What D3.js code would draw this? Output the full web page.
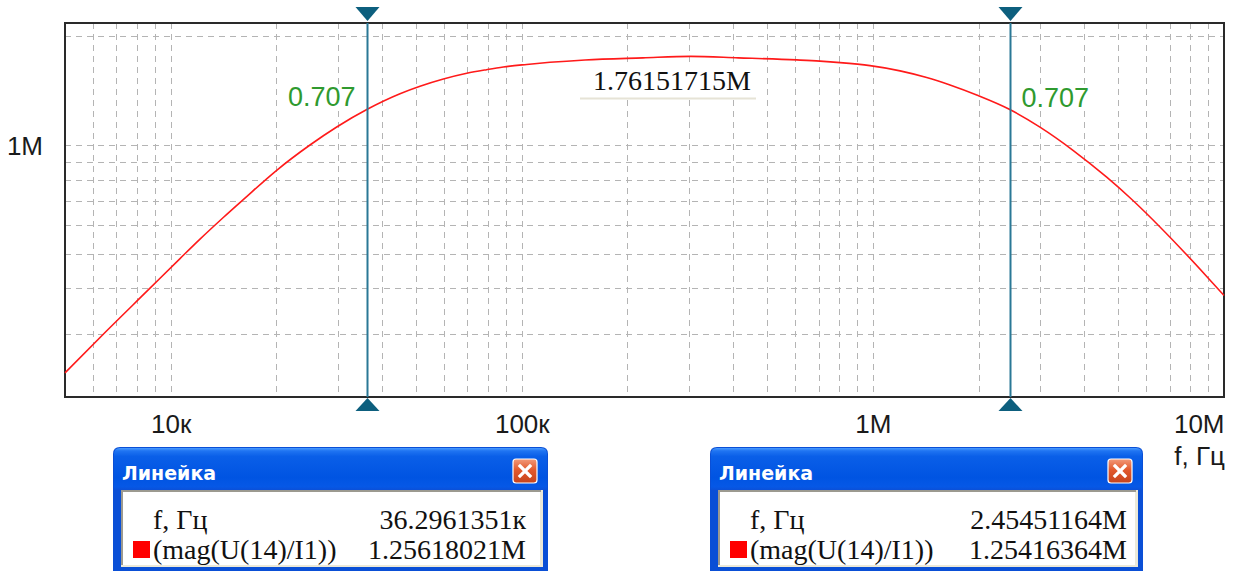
<!DOCTYPE html>
<html>
<head>
<meta charset="utf-8">
<script src="https://cdn.jsdelivr.net/npm/d3@7"></script>
<style>
  html, body { margin: 0; padding: 0; background: #fff; }
  svg { display: block; }
</style>
</head>
<body>
<svg id="chart" width="1235" height="571"></svg>
<script>
// Magnitude response |U(14)/I1| versus frequency (sampled along the trace)
const freqHz = [5000, 6500, 8630, 10630, 12120, 14120, 16070, 20040, 24930, 29710,
  36296.1351, 44990, 51300, 59800, 69700, 79400, 88600, 103300, 120300, 151400,
  221400, 302700, 413600, 606700, 707000, 806000, 981000, 1195000, 1423000, 1658000,
  1975000, 2454511.64, 2991000, 3723000, 4634000, 5398000, 7576000, 8928000, 10000000];
const magnitude = [233300, 302000, 396300, 484200, 548300, 629500, 704700, 851100, 1000000, 1122000,
  1256180.21, 1387000, 1455000, 1524000, 1581000, 1618000, 1646000, 1673000, 1696000, 1722000,
  1745000, 1761517.15, 1745000, 1722000, 1709000, 1693000, 1660000, 1606000, 1539000, 1467000,
  1376000, 1254163.64, 1121000, 965400, 814100, 714100, 513300, 432000, 382400];

const xTickValues = [1e4, 1e5, 1e6, 1e7];
const xTickLabels = ["10к", "100к", "1M", "10M"];
const yTickValues = [1e6];
const yTickLabels = ["1M"];
const yGridValues = [3e5, 4e5, 5e5, 6e5, 7e5, 8e5, 9e5, 1e6, 2e6];

// Cursor (ruler) readouts
const cursorFreq = [36296.1351, 2454511.64];
const cursorMag = [1256180.21, 1254163.64];
const cursorRatio = ["0.707", "0.707"];
const rulerTitle = "Линейка";
const rulerFreqName = "f, Гц";
const rulerTraceName = "(mag(U(14)/I1))";
const xAxisTitle = "f, Гц";

const svg = d3.select("#chart");
const plot = { left: 65, right: 1224, top: 23, bottom: 397 };

const x = d3.scaleLog().domain([5e3, 1e7]).range([plot.left, plot.right]);
const y = d3.scaleLog().domain([2e5, 2.18e6]).range([plot.bottom, plot.top]);

const SANS = "'Liberation Sans', Arial, sans-serif";
const SERIF = "'Liberation Serif', 'Times New Roman', serif";

function fmtEng(v) {
  return v >= 1e6 ? (v / 1e6).toFixed(8) + "M" : (v / 1e3).toFixed(7) + "к";
}

// ---- grid ----
const xGridValues = [];
[1e3, 1e4, 1e5, 1e6].forEach(dec => {
  for (let k = 1; k <= 9; k++) {
    const v = k * dec;
    if (v > 5e3 && v < 1e7) xGridValues.push(v);
  }
});

const grid = svg.append("g").attr("stroke", "#b4b4b4").attr("stroke-width", 1)
  .attr("stroke-dasharray", "6,5").attr("fill", "none");
grid.selectAll("line.v").data(xGridValues).join("line").attr("class", "v")
  .attr("x1", d => Math.round(x(d)) + 0.5).attr("x2", d => Math.round(x(d)) + 0.5)
  .attr("y1", plot.top).attr("y2", plot.bottom);
grid.selectAll("line.h").data(yGridValues).join("line").attr("class", "h")
  .attr("y1", d => Math.round(y(d)) + 0.5).attr("y2", d => Math.round(y(d)) + 0.5)
  .attr("x1", plot.left).attr("x2", plot.right);

// ---- frame ----
svg.append("rect")
  .attr("x", plot.left).attr("y", plot.top)
  .attr("width", plot.right - plot.left).attr("height", plot.bottom - plot.top)
  .attr("fill", "none").attr("stroke", "#2a2a2a").attr("stroke-width", 2);

// ---- axes ----
const xAxis = svg.append("g")
  .attr("transform", `translate(0,${plot.bottom})`)
  .call(d3.axisBottom(x).tickValues(xTickValues)
    .tickFormat((d, i) => xTickLabels[i]).tickSize(0));
xAxis.select(".domain").remove();
xAxis.selectAll("text")
  .attr("y", 36).attr("dy", 0).attr("x", 0)
  .attr("font-family", SANS).attr("font-size", 26).attr("fill", "#1a1a1a")
  // last label sits flush with the right edge of the plot
  .attr("text-anchor", (d, i) => i === xTickValues.length - 1 ? "end" : "middle");

const yAxis = svg.append("g")
  .attr("transform", `translate(${plot.left},0)`)
  .call(d3.axisLeft(y).tickValues(yTickValues)
    .tickFormat((d, i) => yTickLabels[i]).tickSize(0));
yAxis.select(".domain").remove();
yAxis.selectAll("text")
  .attr("x", -22).attr("dy", "0.36em")
  .attr("font-family", SANS).attr("font-size", 26).attr("fill", "#1a1a1a");

svg.append("text")
  .attr("x", 1225).attr("y", 465).attr("text-anchor", "end")
  .attr("font-family", SANS).attr("font-size", 26).attr("fill", "#1a1a1a")
  .text(xAxisTitle);

// ---- trace ----
const pts = freqHz.map((f, i) => [f, magnitude[i]]);
const line = d3.line().x(d => x(d[0])).y(d => y(d[1])).curve(d3.curveMonotoneX);
svg.append("path").datum(pts)
  .attr("d", line).attr("fill", "none")
  .attr("stroke", "#ff1a1a").attr("stroke-width", 1.6);

// ---- peak value label ----
const peakIdx = d3.maxIndex(magnitude);
const peakG = svg.append("g");
peakG.append("rect")
  .attr("x", 580).attr("y", 65).attr("width", 176).attr("height", 33)
  .attr("fill", "#fff");
peakG.append("line")
  .attr("x1", 580).attr("x2", 756).attr("y1", 98.5).attr("y2", 98.5)
  .attr("stroke", "#e6e3d6").attr("stroke-width", 2);
peakG.append("text")
  .attr("x", 672).attr("y", 90).attr("text-anchor", "middle")
  .attr("font-family", SERIF).attr("font-size", 28).attr("fill", "#111")
  .text(fmtEng(magnitude[peakIdx]));

// ---- cursors ----
const cursors = svg.append("g");
cursorFreq.forEach((f, i) => {
  const cx = Math.round(x(f)) + 0.5;
  const g = cursors.append("g");
  g.append("line")
    .attr("x1", cx).attr("x2", cx).attr("y1", plot.top).attr("y2", plot.bottom)
    .attr("stroke", "#2a7896").attr("stroke-width", 2);
  g.append("path")
    .attr("d", `M${cx - 12},7 L${cx + 12},7 L${cx},21 Z`).attr("fill", "#0d5f7e");
  g.append("path")
    .attr("d", `M${cx - 12},411 L${cx + 12},411 L${cx},398 Z`).attr("fill", "#0d5f7e");

  const left = i === 0;
  const t = g.append("text")
    .attr("x", left ? cx - 12 : cx + 11)
    .attr("y", y(cursorMag[i]) - 3)
    .attr("text-anchor", left ? "end" : "start")
    .attr("font-family", SANS).attr("font-size", 27).attr("fill", "#2f9a2f")
    .text(cursorRatio[i]);
  const bb = t.node().getBBox();
  g.insert("rect", "text")
    .attr("x", bb.x - 2).attr("y", bb.y + 2).attr("width", bb.width + 4).attr("height", bb.height - 4)
    .attr("fill", "#fff");
});

// ---- ruler readout windows ----
const defs = svg.append("defs");
const tg = defs.append("linearGradient").attr("id", "titleGrad")
  .attr("x1", 0).attr("x2", 0).attr("y1", 0).attr("y2", 1);
[["0%", "#4a9bff"], ["7%", "#1f74f2"], ["20%", "#0a5fe8"], ["70%", "#0054e2"], ["92%", "#0658e6"], ["100%", "#0b50d8"]]
  .forEach(([o, c]) => tg.append("stop").attr("offset", o).attr("stop-color", c));
const bg = defs.append("linearGradient").attr("id", "closeGrad")
  .attr("x1", 0).attr("x2", 0).attr("y1", 0).attr("y2", 1);
[["0%", "#f29a7a"], ["45%", "#e2592d"], ["100%", "#c6431c"]]
  .forEach(([o, c]) => bg.append("stop").attr("offset", o).attr("stop-color", c));

const rulers = [
  { x: 113, w: 435, valueEnd: 526 },
  { x: 710, w: 433, valueEnd: 1127 }
];
const winTop = 447, titleH = 43;

rulers.forEach((r, i) => {
  const g = svg.append("g").attr("transform", `translate(${r.x},${winTop})`);
  const h = 571 - winTop + 4;
  // frame with rounded top corners
  g.append("path")
    .attr("d", `M0,${h} L0,7 Q0,0 7,0 L${r.w - 7},0 Q${r.w},0 ${r.w},7 L${r.w},${h} Z`)
    .attr("fill", "#0a4fd6");
  g.append("path")
    .attr("d", `M1,${titleH} L1,7 Q1,1 7,1 L${r.w - 7},1 Q${r.w - 1},1 ${r.w - 1},7 L${r.w - 1},${titleH} Z`)
    .attr("fill", "url(#titleGrad)");
  // client area
  const cx0 = 8, cx1 = r.w - 5, cy0 = titleH, cy1 = 120;
  g.append("rect").attr("x", cx0).attr("y", cy0).attr("width", cx1 - cx0).attr("height", cy1 - cy0)
    .attr("fill", "#ece9d8");
  g.append("rect").attr("x", cx0 + 2).attr("y", cy0 + 2).attr("width", cx1 - cx0 - 5).attr("height", cy1 - cy0 - 4)
    .attr("fill", "#fff");
  g.append("path").attr("d", `M${cx0 + 1},${cy1 - 2} L${cx0 + 1},${cy0 + 1} L${cx1 - 2},${cy0 + 1}`)
    .attr("fill", "none").attr("stroke", "#9c9a90").attr("stroke-width", 2);
  // title
  g.append("text").attr("x", 9).attr("y", 33)
    .attr("font-family", "'DejaVu Sans', Verdana, sans-serif").attr("font-weight", "bold")
    .attr("font-size", 19).attr("fill", "#fff")
    .text(rulerTitle);
  // close button
  const bx = r.w - 11 - 24, by = 12;
  g.append("rect").attr("x", bx).attr("y", by).attr("width", 24).attr("height", 24).attr("rx", 3)
    .attr("fill", "url(#closeGrad)").attr("stroke", "#fff").attr("stroke-width", 1.2);
  g.append("path")
    .attr("d", `M${bx + 7},${by + 7} L${bx + 17},${by + 17} M${bx + 17},${by + 7} L${bx + 7},${by + 17}`)
    .attr("stroke", "#fff").attr("stroke-width", 3.2).attr("stroke-linecap", "square");
  // rows
  const rowFont = { family: SERIF, size: 28 };
  g.append("text").attr("x", 40).attr("y", 82)
    .attr("font-family", rowFont.family).attr("font-size", rowFont.size).attr("fill", "#111")
    .text(rulerFreqName);
  g.append("text").attr("x", r.valueEnd - r.x).attr("y", 82).attr("text-anchor", "end")
    .attr("font-family", rowFont.family).attr("font-size", rowFont.size).attr("fill", "#111")
    .text(fmtEng(cursorFreq[i]));
  g.append("rect").attr("x", 20).attr("y", 94).attr("width", 17).attr("height", 17).attr("fill", "#ff0000");
  g.append("text").attr("x", 40).attr("y", 112)
    .attr("font-family", rowFont.family).attr("font-size", rowFont.size).attr("fill", "#111")
    .text(rulerTraceName);
  g.append("text").attr("x", r.valueEnd - r.x).attr("y", 112).attr("text-anchor", "end")
    .attr("font-family", rowFont.family).attr("font-size", rowFont.size).attr("fill", "#111")
    .text(fmtEng(cursorMag[i]));
});
</script>
</body>
</html>
